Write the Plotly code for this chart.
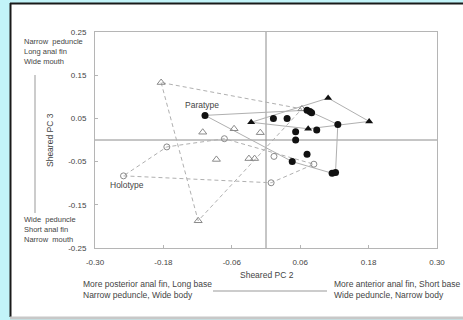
import plotly.graph_objects as go

# ---------------- data ----------------
# Group A: filled circles (solid hull)
a_x = [-0.107, 0.072, 0.077, 0.080, 0.013, 0.037, 0.126, 0.052, 0.089, 0.052, 0.072, 0.046, 0.116, 0.122]
a_y = [0.057, 0.069, 0.066, 0.063, 0.050, 0.050, 0.036, 0.019, 0.023, 0.000, -0.033, -0.050, -0.077, -0.075]
# Group B: filled triangles (solid hull)
b_x = [0.109, 0.181, -0.026, 0.074]
b_y = [0.097, 0.043, 0.041, 0.026]
# Group C: open circles (dashed hull)
c_x = [-0.250, -0.174, -0.073, 0.014, 0.009, 0.084]
c_y = [-0.083, -0.016, 0.003, -0.038, -0.099, -0.056]
# Group D: open triangles (dashed hull)
d_x = [-0.184, 0.063, -0.111, -0.010, -0.056, -0.087, -0.119, -0.030, -0.020]
d_y = [0.133, 0.072, 0.018, 0.017, 0.026, -0.045, -0.187, -0.043, -0.043]

x_ticks = [-0.30, -0.18, -0.06, 0.06, 0.18, 0.30]
y_ticks = [-0.25, -0.15, -0.05, 0.05, 0.15, 0.25]

holotype = (-0.250, -0.083)
paratype = (-0.107, 0.057)

# ---------------- helpers ----------------
def hull(xs, ys):
    pts = sorted(set(zip(xs, ys)))
    if len(pts) < 3:
        return pts
    def cross(o, a, b):
        return (a[0]-o[0])*(b[1]-o[1]) - (a[1]-o[1])*(b[0]-o[0])
    lower, upper = [], []
    for p in pts:
        while len(lower) >= 2 and cross(lower[-2], lower[-1], p) <= 0:
            lower.pop()
        lower.append(p)
    for p in reversed(pts):
        while len(upper) >= 2 and cross(upper[-2], upper[-1], p) <= 0:
            upper.pop()
        upper.append(p)
    h = lower[:-1] + upper[:-1]
    return h + [h[0]]

W, H = 463, 320
L, R, T, B = 95, 26, 32, 72
PW, PH = W - L - R, H - T - B

def px(x):
    return (x - L) / PW

def py(y):
    return (H - B - y) / PH

fig = go.Figure()

LINE_GRAY = "#b0b0b0"
MARK_GRAY = "#8a8a8a"

for xs, ys, dash in [(c_x, c_y, "4px,3px"), (d_x, d_y, "4px,3px"), (a_x, a_y, "solid"), (b_x, b_y, "solid")]:
    h = hull(xs, ys)
    fig.add_trace(go.Scatter(x=[p[0] for p in h], y=[p[1] for p in h], mode="lines",
                             line=dict(color=LINE_GRAY, width=1, dash=dash),
                             hoverinfo="skip", showlegend=False))

fig.add_trace(go.Scatter(x=c_x, y=c_y, mode="markers", showlegend=False,
                         marker=dict(symbol="circle-open", size=6, color=MARK_GRAY, line=dict(width=1))))
fig.add_trace(go.Scatter(x=d_x, y=d_y, mode="markers", showlegend=False,
                         marker=dict(symbol="triangle-up-open", size=7, color=MARK_GRAY, line=dict(width=1))))
fig.add_trace(go.Scatter(x=a_x, y=a_y, mode="markers", showlegend=False,
                         marker=dict(symbol="circle", size=7, color="#111111")))
fig.add_trace(go.Scatter(x=b_x, y=b_y, mode="markers", showlegend=False,
                         marker=dict(symbol="triangle-up", size=7, color="#111111")))

FAM = "Liberation Sans, Arial, sans-serif"
FONT = dict(family=FAM, size=8.5, color="#444444")
SIDEFONT = dict(family=FAM, size=7.5, color="#444444")
TICKFONT = dict(family=FAM, size=8, color="#444444")

annotations = [
    dict(x=paratype[0], y=paratype[1], xref="x", yref="y", text="Paratype", showarrow=False,
         yshift=10, xshift=-3, font=FONT),
    dict(x=holotype[0], y=holotype[1], xref="x", yref="y", text="Holotype", showarrow=False,
         yshift=-9, xshift=3, font=FONT),
    dict(x=px(22), y=py(52), xref="paper", yref="paper", xanchor="left", yanchor="middle", align="left",
         text="Narrow  peduncle<br>Long anal fin<br>Wide mouth", showarrow=False, font=SIDEFONT),
    dict(x=px(22), y=py(229), xref="paper", yref="paper", xanchor="left", yanchor="middle", align="left",
         text="Wide  peduncle<br>Short anal fin<br>Narrow  mouth", showarrow=False, font=SIDEFONT),
    dict(x=px(43), y=py(140), xref="paper", yref="paper", textangle=-90,
         text="Sheared PC 3", showarrow=False, font=FONT),
    dict(x=px(267), y=py(282), xref="paper", yref="paper",
         text="Sheared PC 2", showarrow=False, font=FONT),
    dict(x=px(81), y=py(289), xref="paper", yref="paper", xanchor="left", yanchor="middle", align="left",
         text="More posterior anal fin, Long base<br>Narrow peduncle, Wide body", showarrow=False, font=FONT),
    dict(x=px(332), y=py(289), xref="paper", yref="paper", xanchor="left", yanchor="middle", align="left",
         text="More anterior anal fin, Short base<br>Wide peduncle, Narrow body", showarrow=False, font=FONT),
]

shapes = [
    # white panel
    dict(type="rect", xref="paper", yref="paper", x0=px(10), x1=px(463), y0=py(317), y1=py(3),
         fillcolor="white", line=dict(width=0), layer="below"),
    dict(type="line", xref="paper", yref="paper", x0=px(10.5), x1=px(10.5), y0=py(317), y1=py(3),
         line=dict(color="#1a1a1a", width=2), layer="below"),
    dict(type="line", xref="paper", yref="paper", x0=px(10), x1=px(463), y0=py(3.5), y1=py(3.5),
         line=dict(color="#1a1a1a", width=2), layer="below"),
    dict(type="line", xref="paper", yref="paper", x0=px(10), x1=px(463), y0=py(318), y1=py(318),
         line=dict(color="#c8c8c8", width=3), layer="below"),
    # axis arrows
    dict(type="line", xref="paper", yref="paper", x0=px(35), x1=px(35), y0=py(75), y1=py(213),
         line=dict(color="#999999", width=1)),
    dict(type="line", xref="paper", yref="paper", x0=px(213), x1=px(327), y0=py(291), y1=py(291),
         line=dict(color="#999999", width=1)),
    # reference lines
    dict(type="line", xref="x", yref="paper", x0=0, x1=0, y0=0, y1=1, line=dict(color="#8c8c8c", width=1), layer="below"),
    dict(type="line", xref="paper", yref="y", x0=0, x1=1, y0=0, y1=0, line=dict(color="#8c8c8c", width=1), layer="below"),
]

axis_common = dict(showgrid=False, zeroline=False, showline=True, mirror=True, linecolor="#b5b5b5",
                   linewidth=1, ticks="inside", ticklen=3, tickcolor="#b5b5b5", tickfont=TICKFONT)

fig.update_layout(
    width=W, height=H,
    margin=dict(l=L, r=R, t=T, b=B),
    paper_bgcolor="#c2f4f9",
    plot_bgcolor="white",
    xaxis=dict(range=[-0.30, 0.30], tickvals=x_ticks, ticktext=[f"{v:.2f}" for v in x_ticks],
               ticklabelstandoff=6, **axis_common),
    yaxis=dict(range=[-0.25, 0.25], tickvals=y_ticks, ticktext=[f"{v:.2f}" for v in y_ticks],
               ticklabelstandoff=6, **axis_common),
    annotations=annotations,
    shapes=shapes,
)

fig.write_html("out.html")
